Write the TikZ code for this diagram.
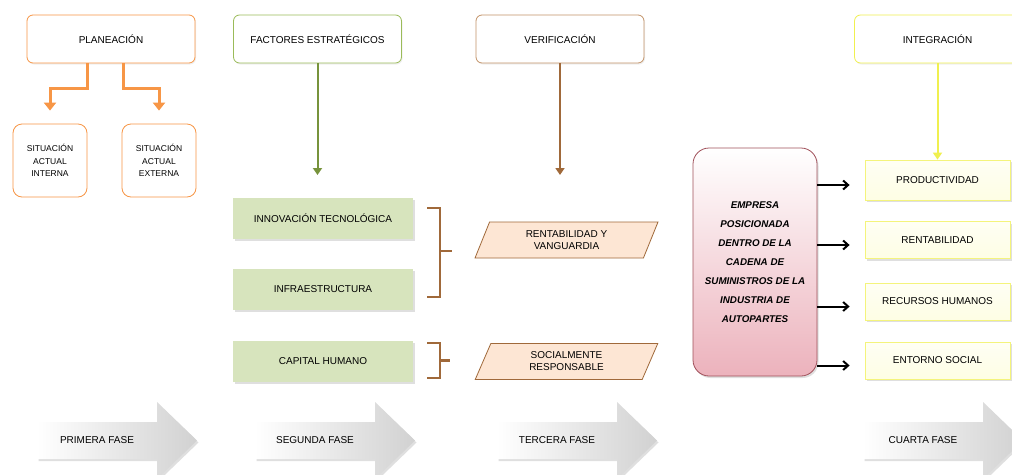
\documentclass[tikz,border=0pt]{standalone}
\usepackage{fontspec}
\setmainfont{Liberation Sans}
\usetikzlibrary{calc}
\usetikzlibrary{arrows.meta}
\usetikzlibrary{shapes.geometric,shadows}

\definecolor{naranja}{HTML}{F79646}
\definecolor{verde}{HTML}{9BBB59}
\definecolor{verdeosc}{HTML}{77933C}
\definecolor{verdeclaro}{HTML}{D7E4BD}
\definecolor{cafe}{HTML}{C39368}
\definecolor{cafeosc}{HTML}{A0693A}
\definecolor{durazno}{HTML}{FDE6D4}
\definecolor{amarillo}{HTML}{F0F050}
\definecolor{amarilloclaro}{HTML}{FEFEE4}
\definecolor{rosa}{HTML}{ECB2BC}
\definecolor{vino}{HTML}{A0505A}

\begin{document}
\begin{tikzpicture}[x=1pt,y=-1pt,font=\fontsize{10}{12}\selectfont,
  sombra/.style={drop shadow={opacity=0.25,shadow xshift=1.5pt,shadow yshift=-2pt}},
  titulo/.style={draw,line width=0.8,rounded corners=6,fill=white,minimum width=168,minimum height=48,
    drop shadow={opacity=0.12,shadow xshift=1pt,shadow yshift=-1.5pt}},
  situacion/.style={draw=naranja,line width=0.8,rounded corners=9,fill=white,minimum width=74,minimum height=73,
    align=center,font=\fontsize{8.5}{12.5}\selectfont},
  cajaverde/.style={fill=verdeclaro,sombra,minimum width=180,minimum height=41},
  paralelo/.style={trapezium,trapezium stretches=true,trapezium left angle=72,trapezium right angle=108,
    draw=cafeosc,fill=durazno,line width=0.8,minimum width=183,minimum height=36,align=center},
  cajaamarilla/.style={draw=amarillo!75,line width=0.8,top color=amarilloclaro!40,bottom color=amarilloclaro,
    sombra,minimum width=145,minimum height=37},
  empresa/.style={draw=vino,line width=0.8,rounded corners=16,top color=white,bottom color=rosa,sombra,
    minimum width=124,minimum height=228,align=center,font=\bfseries\itshape\fontsize{9.8}{19}\selectfont},
  llave/.style={cafeosc,line width=2.5},
  fase/.style={left color=white,right color=black!18,sombra},
  flechanaranja/.style={naranja,line width=3,-{Triangle[width=12pt,length=8pt]}},
  flecha/.style={line width=2,-{Triangle[width=9pt,length=7pt]}},
  flechanegra/.style={black,line width=2,-{Straight Barb[width=9pt,length=5pt]}}]

\useasboundingbox (0,0) rectangle (1012,474);
\fill[white] (0,0) rectangle (1012,474);

% primera fase: planeacion
\node[titulo,draw=naranja] (plan) at (111,39) {PLANEACIÓN};
\node[situacion] (interna) at (50,160.5) {SITUACIÓN\\ACTUAL\\INTERNA};
\node[situacion] (externa) at (159,160.5) {SITUACIÓN\\ACTUAL\\EXTERNA};
\draw[flechanaranja,shorten >=13pt] ($(plan.south)+(-24,0)$) -- ++(0,25) -| (interna.north);
\draw[flechanaranja,shorten >=13pt] ($(plan.south)+(12,0)$) -- ++(0,25) -| (externa.north);

% segunda fase: factores
\node[titulo,draw=verde] (fact) at (317.5,39) {FACTORES ESTRATÉGICOS};
\coordinate (finfact) at (317.5,175);
\draw[flecha,verdeosc] (fact) -- (finfact);
\node[cajaverde] (innov) at (323,218) {INNOVACIÓN TECNOLÓGICA};
\node[cajaverde] (infra) at (323,289) {INFRAESTRUCTURA};
\node[cajaverde] (capital) at (323,361) {CAPITAL HUMANO};
\draw[llave] (427,208) -- (440,208) -- (440,297) -- (427,297) (440,251) -- (452,251);
\draw[llave] (427,343) -- (440,343) -- (440,378) -- (427,378) (440,360.5) -- (450,360.5);

% tercera fase: verificacion
\node[titulo,draw=cafe] (verif) at (560,39) {VERIFICACIÓN};
\coordinate (finverif) at (560,175);
\draw[flecha,cafeosc] (verif) -- (finverif);
\node[paralelo] (rentab) at (566.5,240) {RENTABILIDAD Y\\VANGUARDIA};
\node[paralelo] (social) at (566.5,361.5) {SOCIALMENTE\\RESPONSABLE};

% cuarta fase: integracion
\node[empresa] (emp) at (755,262) {EMPRESA\\POSICIONADA\\DENTRO DE LA\\CADENA DE\\SUMINISTROS DE LA\\INDUSTRIA DE\\AUTOPARTES};
\node[titulo,draw=amarillo,minimum width=166] (integ) at (937.5,39) {INTEGRACIÓN};
\node[cajaamarilla,minimum height=40] (prod) at (937.5,180) {PRODUCTIVIDAD};
\node[cajaamarilla] (rent) at (937.5,240) {RENTABILIDAD};
\node[cajaamarilla] (recur) at (937.5,301.5) {RECURSOS HUMANOS};
\node[cajaamarilla] (entorno) at (937.5,360.5) {ENTORNO SOCIAL};
\draw[flecha,amarillo] (integ) -- (prod);
\foreach \caja in {prod,rent,recur,entorno}
  \draw[flechanegra] ($(emp.east |- \caja.west)+(0,5)$) -- ($(\caja.west)+(-15,5)$);

% flechas de las fases
\foreach \x/\txt/\nombre in {37/PRIMERA FASE/fase1,255/SEGUNDA FASE/fase2,497/TERCERA FASE/fase3,863/CUARTA FASE/fase4}{
  \path[fase] (\x,422) -- ++(120,0) -- ++(0,-20) -- ++(40,38.5) -- ++(-40,38.5) -- ++(0,-20) -- ++(-120,0) -- cycle;
  \node (\nombre) at (\x+60,440.5) {\txt};
}
\end{tikzpicture}
\end{document}
